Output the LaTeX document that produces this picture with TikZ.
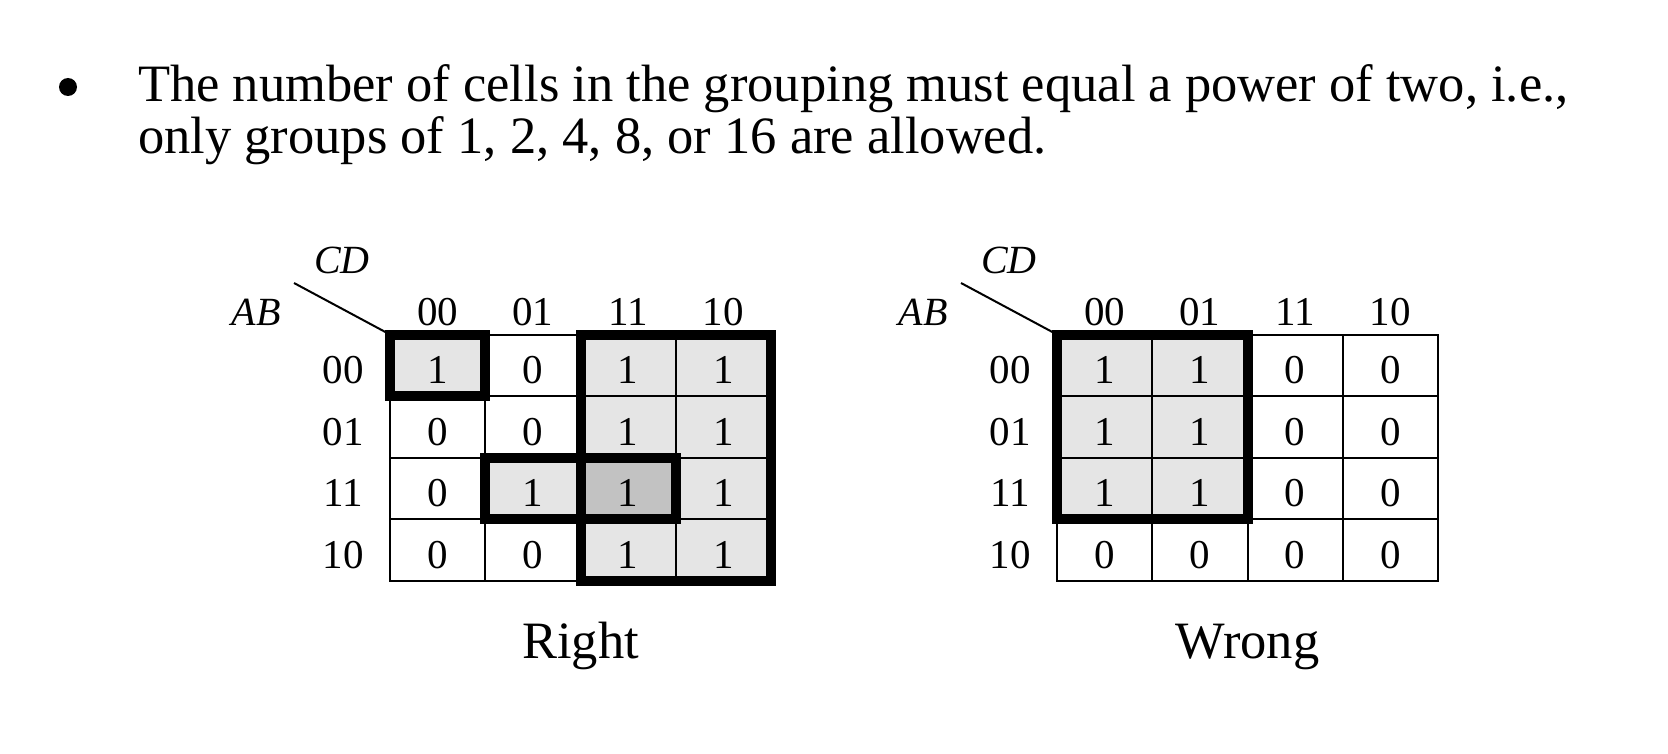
\documentclass[tikz,border=0pt]{standalone}
\usepackage{fontspec}
\setmainfont{Liberation Serif}
\definecolor{lgray}{HTML}{E5E5E5}
\definecolor{dgray}{HTML}{C2C2C2}
\tikzset{
  kcell/.style={draw=black, line width=2pt, minimum width=95.25pt, minimum height=61.5pt,
    inner sep=0pt, outer sep=0pt, text height=36.5pt, text depth=0pt,
    font=\fontsize{41}{41}\selectfont},
  klabel/.style={inner sep=0pt, anchor=base, font=\fontsize{41}{41}\selectfont},
  vlabel/.style={inner sep=0pt, anchor=base, font=\fontsize{40}{40}\selectfont\itshape},
  bodytext/.style={inner sep=0pt, anchor=base west, font=\fontsize{52.5}{50}\selectfont},
  caption/.style={inner sep=0pt, anchor=base, font=\fontsize{52.5}{50}\selectfont},
  groupbox/.style={draw=black, line width=10pt},
  diag/.style={draw=black, line width=2pt}
}
\begin{document}
\begin{tikzpicture}[x=1pt,y=-1pt]
\useasboundingbox (0,0) rectangle (1668,754);
% bullet and text
\node[circle, fill=black, inner sep=0pt, minimum size=18pt] (bullet) at (68,87) {};
\node[bodytext] (line1) at (138,102) {The number of cells in the grouping must equal a power of two, i.e.,};
\node[bodytext] (line2) at (138,154) {only groups of 1, 2, 4, 8, or 16 are allowed.};

% ---------- Left map ----------
\def\valsL{{{1,0,1,1},{0,0,1,1},{0,1,1,1},{0,0,1,1}}}
\def\fillL{{{1,0,1,1},{0,0,1,1},{0,1,2,1},{0,0,1,1}}}
\foreach \r in {0,1,2,3}{
  \foreach \c in {0,1,2,3}{
    \pgfmathtruncatemacro{\v}{\valsL[\r][\c]}
    \pgfmathtruncatemacro{\f}{\fillL[\r][\c]}
    \ifcase\f
      \node[kcell, fill=white] (L-\r-\c) at (390+95.25*\c+47.625, 334.5+61.5*\r+30.75) {\v};
    \or
      \node[kcell, fill=lgray] (L-\r-\c) at (390+95.25*\c+47.625, 334.5+61.5*\r+30.75) {\v};
    \or
      \node[kcell, fill=dgray] (L-\r-\c) at (390+95.25*\c+47.625, 334.5+61.5*\r+30.75) {\v};
    \fi
  }
}
\foreach \lab [count=\i from 0] in {00,01,11,10}{
  \node[klabel] (LC-\i) at (390+95.25*\i+47.625, 325) {\lab};
  \node[klabel] (LR-\i) at (343, 334.5+61.5*\i+49) {\lab};
}
\node[vlabel] (LCD) at (342,273) {CD};
\node[vlabel] (LAB) at (256,325) {AB};
\coordinate (Ldiag) at (294,283);
\draw[diag] (Ldiag) -- (L-0-0.north west);
\draw[groupbox] (L-0-0.north west) rectangle (L-0-0.south east);
\draw[groupbox] (L-0-2.north west) rectangle (L-3-3.south east);
\draw[groupbox] (L-2-1.north west) rectangle (L-2-2.south east);
\node[caption] (right) at (580.5,658) {Right};

% ---------- Right map ----------
\def\valsR{{{1,1,0,0},{1,1,0,0},{1,1,0,0},{0,0,0,0}}}
\foreach \r in {0,1,2,3}{
  \foreach \c in {0,1,2,3}{
    \pgfmathtruncatemacro{\v}{\valsR[\r][\c]}
    \ifnum\v=1
      \node[kcell, fill=lgray] (R-\r-\c) at (1057+95.25*\c+47.625, 334.5+61.5*\r+30.75) {\v};
    \else
      \node[kcell, fill=white] (R-\r-\c) at (1057+95.25*\c+47.625, 334.5+61.5*\r+30.75) {\v};
    \fi
  }
}
\foreach \lab [count=\i from 0] in {00,01,11,10}{
  \node[klabel] (RC-\i) at (1057+95.25*\i+47.625, 325) {\lab};
  \node[klabel] (RR-\i) at (1010, 334.5+61.5*\i+49) {\lab};
}
\node[vlabel] (RCD) at (1009,273) {CD};
\node[vlabel] (RAB) at (923,325) {AB};
\coordinate (Rdiag) at (961,283);
\draw[diag] (Rdiag) -- (R-0-0.north west);
\draw[groupbox] (R-0-0.north west) rectangle (R-2-1.south east);
\node[caption] (wrong) at (1247.5,658) {Wrong};
\end{tikzpicture}
\end{document}
